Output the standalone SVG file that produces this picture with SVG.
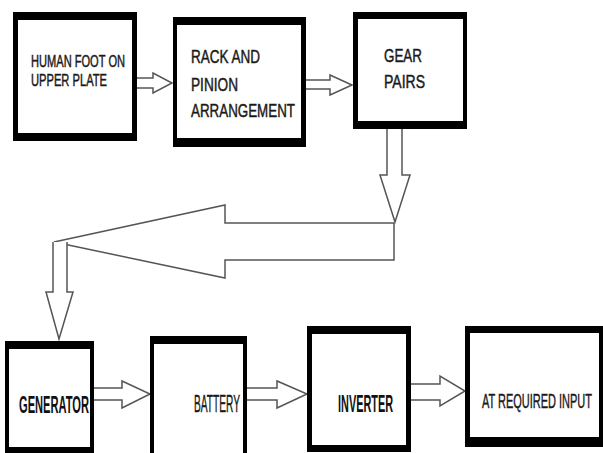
<svg xmlns="http://www.w3.org/2000/svg" width="603" height="453" viewBox="0 0 603 453">
<style>
.frame{fill:#000}
.inner{fill:#fff}
.t{font-family:"Liberation Sans",Arial,sans-serif;fill:#1a1a1a;stroke:#1a1a1a;stroke-width:0.45}
.tb{font-family:"Liberation Sans",Arial,sans-serif;font-weight:bold;fill:#111}
.c{fill:#fff;stroke:#555;stroke-width:1.5;stroke-linejoin:miter}
</style>
<rect width="603" height="453" fill="#fff"/>
<g id="connectors">
<path class="c" d="M137,78 L153,78 L153,73 L172,83 L153,93 L153,88 L137,88"/>
<path class="c" d="M306,80 L330,80 L330,75 L352,85 L330,95 L330,89 L306,89"/>
<path class="c" d="M387,129 L387,175 L380,175 L395,222 L410,175 L402,175 L402,129"/>
<path class="c" d="M394,223 L225,223 L225,205 L54,242 L225,278 L225,260 L394,260 Z"/>
<path class="c" d="M53,242 L53,292 L46,292 L59,339 L73,292 L67,292 L67,242"/>
<path class="c" d="M94,388 L122,388 L122,381 L150,394 L122,408 L122,400 L94,400"/>
<path class="c" d="M247,388 L277,388 L277,381 L307,394 L277,408 L277,400 L247,400"/>
<path class="c" d="M411,384 L440,384 L440,376 L465,391 L440,406 L440,400 L411,400"/>
</g>
<g id="human-foot">
<rect class="frame" x="13" y="12" width="124" height="129"/>
<rect class="inner" x="18" y="20" width="114" height="113"/>
<text class="t" x="31" y="67" font-size="16" textLength="94" lengthAdjust="spacingAndGlyphs">HUMAN FOOT ON</text>
<text class="t" x="31" y="86" font-size="16" textLength="76" lengthAdjust="spacingAndGlyphs">UPPER PLATE</text>
</g>
<g id="rack-pinion">
<rect class="frame" x="173" y="17" width="133" height="130"/>
<rect class="inner" x="177" y="25" width="124" height="113"/>
<text class="t" x="191" y="63" font-size="18" textLength="69" lengthAdjust="spacingAndGlyphs">RACK AND</text>
<text class="t" x="191" y="91" font-size="18" textLength="47" lengthAdjust="spacingAndGlyphs">PINION</text>
<text class="t" x="191" y="117" font-size="18" textLength="104" lengthAdjust="spacingAndGlyphs">ARRANGEMENT</text>
</g>
<g id="gear-pairs">
<rect class="frame" x="353" y="12" width="114" height="117"/>
<rect class="inner" x="358" y="19" width="105" height="102"/>
<text class="t" x="384" y="62" font-size="18" textLength="38" lengthAdjust="spacingAndGlyphs">GEAR</text>
<text class="t" x="384" y="88" font-size="18" textLength="41" lengthAdjust="spacingAndGlyphs">PAIRS</text>
</g>
<g id="generator">
<rect class="frame" x="5" y="341" width="89" height="112"/>
<rect class="inner" x="9" y="349" width="81" height="98"/>
<text class="tb" x="19" y="413" font-size="24" textLength="70" lengthAdjust="spacingAndGlyphs">GENERATOR</text>
</g>
<g id="battery">
<rect class="frame" x="150" y="336" width="97" height="117"/>
<rect class="inner" x="154" y="344" width="89" height="109"/>
<text class="t" x="194" y="412" font-size="24" textLength="46" lengthAdjust="spacingAndGlyphs">BATTERY</text>
</g>
<g id="inverter">
<rect class="frame" x="307" y="326" width="104" height="126"/>
<rect class="inner" x="312" y="334" width="94" height="111"/>
<text class="tb" x="338" y="412" font-size="24" textLength="55" lengthAdjust="spacingAndGlyphs">INVERTER</text>
</g>
<g id="required-input">
<rect class="frame" x="465" y="326" width="140" height="121"/>
<rect class="inner" x="470" y="333" width="129" height="104"/>
<text class="t" x="482" y="408" font-size="20" textLength="110" lengthAdjust="spacingAndGlyphs">AT REQUIRED INPUT</text>
</g>
</svg>
